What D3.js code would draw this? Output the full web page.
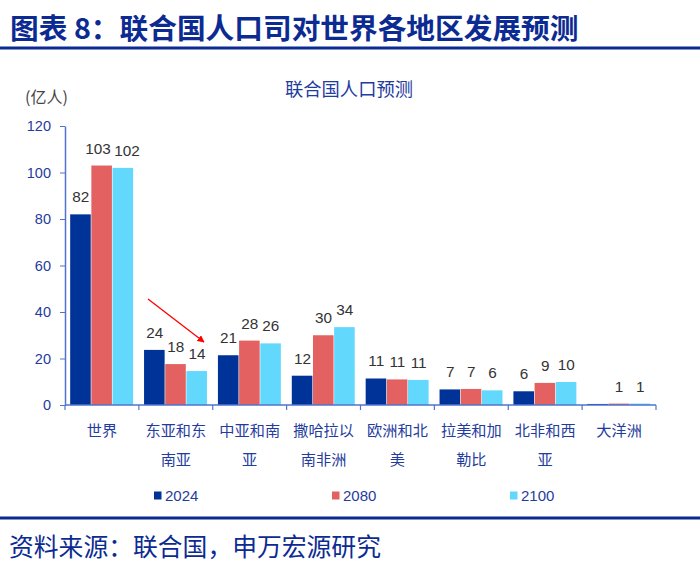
<!DOCTYPE html>
<html><head><meta charset="utf-8">
<script src="https://cdn.jsdelivr.net/npm/d3@7/dist/d3.min.js"></script>
<style>
html,body{margin:0;padding:0;background:#fff;}
svg{display:block;font-family:"Liberation Sans","Noto Sans CJK SC",sans-serif;}
</style></head>
<body>
<svg id="chart" width="700" height="572"></svg>
<script>
const categories = ["世界","东亚和东南亚","中亚和南亚","撒哈拉以南非洲","欧洲和北美","拉美和加勒比","北非和西亚","大洋洲"];
const seriesNames = ["2024","2080","2100"];
const values2024 = [82, 23.7, 21.4, 12.6, 11.4, 6.7, 5.9, 0.45];
const values2080 = [103, 17.6, 27.7, 30, 11.0, 6.9, 9.5, 0.6];
const values2100 = [102, 14.6, 26.5, 33.5, 10.8, 6.3, 9.9, 0.6];
const labels2024 = ["82","24","21","12","11","7","6",""];
const labels2080 = ["103","18","28","30","11","7","9","1"];
const labels2100 = ["102","14","26","34","11","6","10","1"];
const yTicks = [0,20,40,60,80,100,120];

const colors = ["#003397","#e46161","#63d8fd"];
const series = [values2024, values2080, values2100];
const seriesLabels = [labels2024, labels2080, labels2100];

const svg = d3.select("#chart");
const navy = "#0c2b92";
const axisBlue = "#4f74cf";
const textBlue = "#1f3c9e";
const cjk = "'Noto Sans CJK SC',sans-serif";

// Header
svg.append("text").attr("x",10).attr("y",39).attr("font-size",28.7).attr("font-weight","bold")
  .attr("fill",navy).attr("font-family",cjk).text("图表 8：联合国人口司对世界各地区发展预测");
svg.append("rect").attr("x",0).attr("y",46.5).attr("width",700).attr("height",3).attr("fill",navy);

// chart title
svg.append("text").attr("x",349).attr("y",95.5).attr("text-anchor","middle").attr("font-size",18.3)
  .attr("fill",textBlue).attr("font-family",cjk).text("联合国人口预测");
svg.append("text").attr("x",25).attr("y",103).attr("font-size",16).attr("fill","#444")
  .attr("font-family",cjk).text("(亿人)");

const x0 = d3.scaleBand().domain(categories).range([65,656]).paddingInner(0.14).paddingOuter(0.07);
const x1 = d3.scaleBand().domain(seriesNames).range([0,x0.bandwidth()]).padding(0);
const y = d3.scaleLinear().domain([0,120]).range([405,126]);

// bars
const g = svg.append("g");
const labelItems = [];
series.forEach((vals,si)=>{
  g.selectAll(".b"+si).data(vals).enter().append("rect")
    .attr("x",(d,i)=>x0(categories[i])+x1(seriesNames[si]))
    .attr("y",d=>y(d)).attr("width",x1.bandwidth()-0.6).attr("height",d=>y(0)-y(d))
    .attr("fill",colors[si]);
  vals.forEach((v,i)=>{
    const t = seriesLabels[si][i];
    labelItems.push({ci:i, si, text:t, cx:x0(categories[i])+x1(seriesNames[si])+x1.bandwidth()/2,
      y:y(v)-12, w:t.length*8.4});
  });
});
// simple overlap resolution within each category
categories.forEach((c,ci)=>{
  const items = labelItems.filter(d=>d.ci===ci && d.text).sort((a,b)=>a.si-b.si);
  for(let k=0;k<items.length-1;k++){
    const a=items[k], b=items[k+1];
    if(Math.abs(a.y-b.y)<15){
      const gap = (b.cx-b.w/2)-(a.cx+a.w/2);
      if(gap<4){ const s=(4-gap)/2; a.cx-=s; b.cx+=s; }
    }
  }
});
svg.selectAll(".lbl").data(labelItems.filter(d=>d.text)).enter().append("text")
  .attr("x",d=>d.cx).attr("y",d=>d.y).attr("text-anchor","middle").attr("font-size",15.3).attr("fill","#333")
  .text(d=>d.text);

// y axis
const yAxis = d3.axisLeft(y).tickValues(yTicks).tickSize(5).tickSizeOuter(0);
const ya = svg.append("g").attr("transform","translate(65,0)").call(yAxis);
ya.select(".domain").attr("stroke",axisBlue).attr("stroke-width",1.5);
ya.selectAll(".tick line").attr("stroke",axisBlue);
ya.selectAll(".tick text").attr("font-size",14.5).attr("fill",textBlue).attr("font-family","'Liberation Sans',sans-serif").attr("x",-14);

// x axis
const bounds = categories.map(c=>x0(c)-x0.step()*x0.paddingInner()/2).concat([656]);
svg.append("line").attr("x1",65).attr("x2",656).attr("y1",405).attr("y2",405).attr("stroke",axisBlue).attr("stroke-width",1.5);
svg.selectAll(".xt").data(bounds).enter().append("line")
  .attr("x1",d=>d).attr("x2",d=>d).attr("y1",405).attr("y2",410).attr("stroke",axisBlue).attr("stroke-width",1.2);
categories.forEach(c=>{
  const lines = [];
  for(let i=0;i<c.length;i+=4) lines.push(c.slice(i,i+4));
  const t = svg.append("text").attr("text-anchor","middle").attr("font-size",15.2).attr("fill",textBlue)
    .attr("font-family",cjk);
  lines.forEach((l,k)=>t.append("tspan").attr("x",x0(c)+x0.bandwidth()/2).attr("y",435.5+k*29).text(l));
});

// arrow
const defs = svg.append("defs");
defs.append("marker").attr("id","ah").attr("viewBox","0 0 10 10").attr("refX",9).attr("refY",5)
  .attr("markerWidth",5.5).attr("markerHeight",5.5).attr("orient","auto")
  .append("path").attr("d","M0,0L10,5L0,10z").attr("fill","#ff0000");
svg.append("line").attr("x1",148).attr("y1",299).attr("x2",204).attr("y2",342)
  .attr("stroke","#ff0000").attr("stroke-width",1.3).attr("marker-end","url(#ah)");

// legend
const legX = [154,332,510];
seriesNames.forEach((s,i)=>{
  svg.append("rect").attr("x",legX[i]).attr("y",491.5).attr("width",7.5).attr("height",8).attr("fill",colors[i]);
  svg.append("text").attr("x",legX[i]+11).attr("y",501).attr("font-size",15).attr("fill",textBlue).text(s);
});

// footer
svg.append("rect").attr("x",0).attr("y",516.5).attr("width",700).attr("height",3).attr("fill",navy);
svg.append("text").attr("x",9).attr("y",556).attr("font-size",24.8).attr("fill",navy)
  .attr("font-family",cjk).text("资料来源：联合国，申万宏源研究");
</script>
</body></html>
